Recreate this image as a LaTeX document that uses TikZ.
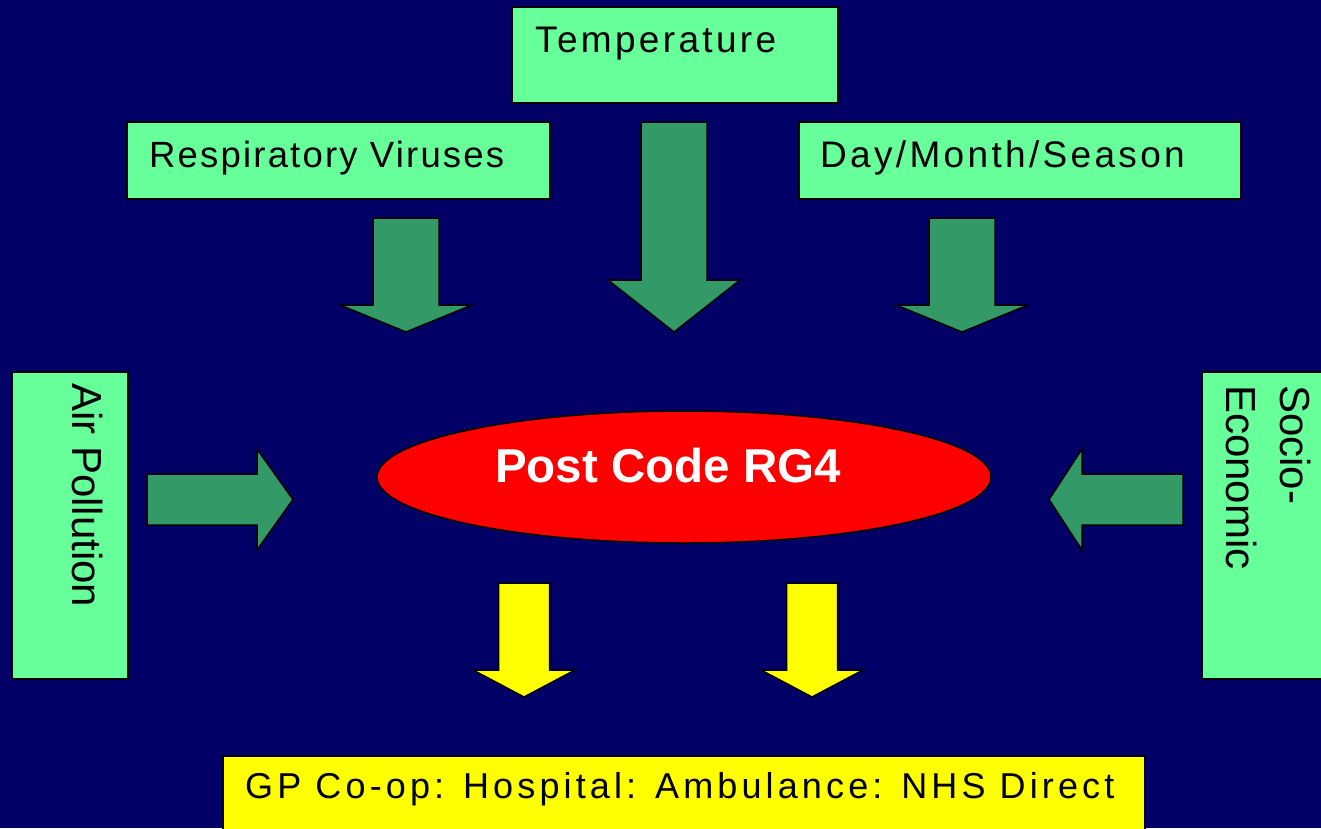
\documentclass[tikz,border=0pt]{standalone}
\usepackage{fontspec}
\setmainfont{Liberation Sans}
\newfontfamily\spacedfont{Liberation Sans}[LetterSpace=9]
\newfontfamily\tightfont{Liberation Sans}[LetterSpace=6]
\newfontfamily\widefont{Liberation Sans}[LetterSpace=11.5]
\usepackage{xcolor}
\usepackage{tikz}
\usetikzlibrary{shapes.geometric}
\definecolor{navy}{HTML}{000066}
\definecolor{mintgreen}{HTML}{66FF99}
\definecolor{arrowgreen}{HTML}{339966}
\definecolor{signred}{HTML}{FF0000}
\definecolor{signyellow}{HTML}{FFFF00}

\begin{document}
\begin{tikzpicture}[x=1pt, y=-1pt,
    factorbox/.style={draw=black, line width=1.5pt, fill=mintgreen, inner sep=0pt},
    outcomebox/.style={factorbox, fill=signyellow},
    boxtext/.style={inner sep=0pt, text=black, font=\spacedfont\fontsize{37}{44}\selectfont},
    sidetext/.style={inner sep=0pt, rotate=-90, align=left, font=\fontsize{42}{54}\selectfont},
    fatarrow/.style={draw=black, line width=1.5pt, line join=miter, fill=arrowgreen},
    yellowarrow/.style={fatarrow, fill=signyellow}]

  \useasboundingbox (0,0) rectangle (1321,828);
  \clip (0,0) rectangle (1321,828);
  \fill[navy] (0,0) rectangle (1321,828);

  % factor boxes
  \node[factorbox, minimum width=326, minimum height=96] (temperature) at (675,55) {};
  \node[factorbox, minimum width=423, minimum height=77] (respiratory) at (338.5,160.5) {};
  \node[factorbox, minimum width=442, minimum height=77] (daymonth) at (1020,160.5) {};
  \node[factorbox, minimum width=116, minimum height=307] (airpollution) at (70,525.5) {};
  \node[factorbox, minimum width=140, minimum height=307] (socio) at (1272,525.5) {};
  \node[outcomebox, minimum width=922, minimum height=94] (services) at (684,803) {};

  \node[boxtext, anchor=base west] (temperaturetext) at (535,52) {Temperature};
  \node[boxtext, anchor=base west, font=\tightfont\fontsize{36.5}{44}\selectfont] (respiratorytext) at (149,167) {Respiratory Viruses};
  \node[boxtext, anchor=base west] (daymonthtext) at (820,167) {Day/Month/Season};
  \node[sidetext, anchor=base west] (airpollutiontext) at (72,383) {Air Pollution};
  \node[sidetext, anchor=north west] (sociotext) at (1311,385) {Socio-\\Economic};
  \node[boxtext, anchor=base west, font=\widefont\fontsize{36}{43}\selectfont] (servicestext) at (245,798) {GP Co-op: Hospital: Ambulance: NHS Direct};

  % centre
  \node[ellipse, draw=black, line width=1.5pt, fill=signred, inner sep=0pt,
        minimum width=614, minimum height=132] (postcode) at (684,477) {};
  \node[anchor=base, inner sep=0pt, text=white, font=\bfseries\fontsize{47.5}{56}\selectfont] (postcodetext) at (668,482) {Post Code RG4};

  % block arrows
  \foreach \cx/\ytop/\yneck in {406/218/305, 674/122/280, 962/218/305}
    \draw[fatarrow] ({\cx-33},\ytop) -- ({\cx+33},\ytop) -- ({\cx+33},\yneck) -- ({\cx+66},\yneck)
      -- (\cx,332) -- ({\cx-66},\yneck) -- ({\cx-33},\yneck) -- cycle;
  \draw[fatarrow] (147,474) -- (257,474) -- (257,449) -- (293,499.5) -- (257,550) -- (257,525) -- (147,525) -- cycle;
  \draw[fatarrow] (1183,474) -- (1082,474) -- (1082,449) -- (1049,499.5) -- (1082,550) -- (1082,525) -- (1183,525) -- cycle;
  \foreach \cx in {524,812}
    \draw[yellowarrow] ({\cx-25.5},583) -- ({\cx+25.5},583) -- ({\cx+25.5},670) -- ({\cx+51},670)
      -- (\cx,697) -- ({\cx-51},670) -- ({\cx-25.5},670) -- cycle;
\end{tikzpicture}
\end{document}
